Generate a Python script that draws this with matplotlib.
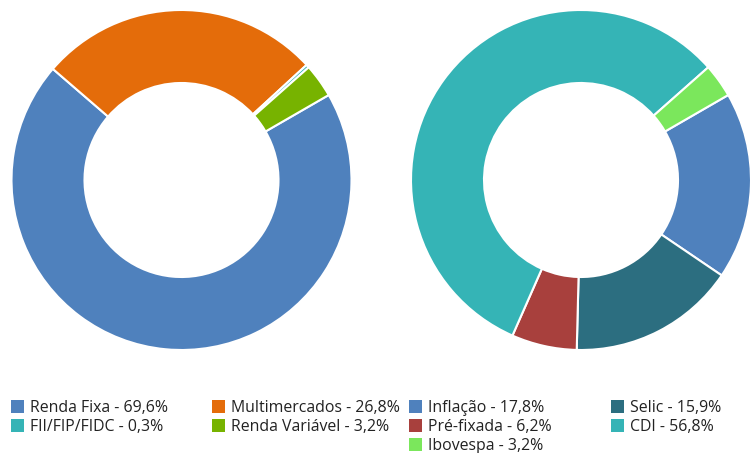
import matplotlib
matplotlib.use("Agg")
import matplotlib.pyplot as plt
from matplotlib.patches import Rectangle

plt.rcParams['font.family'] = ['Open Sans', 'DejaVu Sans']

# Left donut data
left_labels = ["Renda Fixa", "Multimercados", "FII/FIP/FIDC", "Renda Variável"]
left_values = [69.6, 26.8, 0.3, 3.2]
left_colors = ["#4F81BD", "#E46C0A", "#35B4B6", "#77B300"]

# Right donut data
right_labels = ["Inflação", "Selic", "Pré-fixada", "CDI", "Ibovespa"]
right_values = [17.8, 15.9, 6.2, 56.8, 3.2]
right_colors = ["#4F81BD", "#2C6E80", "#A8403D", "#35B4B6", "#7BE75C"]

W, H = 756, 453
fig = plt.figure(figsize=(W / 100, H / 100), dpi=100)
fig.patch.set_facecolor("white")

R_OUT, R_IN = 170, 97


def donut(cx, cy, values, colors):
    ax = fig.add_axes([(cx - R_OUT) / W, 1 - (cy + R_OUT) / H, 2 * R_OUT / W, 2 * R_OUT / H])
    ax.pie(values, colors=colors, startangle=30, counterclock=False, radius=1,
           wedgeprops=dict(width=(R_OUT - R_IN) / R_OUT, edgecolor="white", linewidth=1.5))
    ax.set_xlim(-1, 1)
    ax.set_ylim(-1, 1)
    ax.set_aspect("equal")
    ax.axis("off")


donut(181.5, 180, left_values, left_colors)
donut(581, 180, right_values, right_colors)


def legend(x0, col_w, labels, values, colors):
    for i, (lab, val, col) in enumerate(zip(labels, values, colors)):
        r, c = divmod(i, 2)
        x = x0 + c * col_w
        yc = 406 + r * 19
        fig.patches.append(Rectangle((x / W, 1 - (yc + 6.5) / H), 13 / W, 13 / H,
                                     transform=fig.transFigure, facecolor=col,
                                     edgecolor="none"))
        txt = f"{lab} - {val:.1f}%".replace(".", ",")
        fig.text((x + 19) / W, 1 - yc / H, txt, fontsize=11.4, color="#222222",
                 va="center_baseline", ha="left")


legend(11, 201, left_labels, left_values, left_colors)
legend(409, 202, right_labels, right_values, right_colors)

fig.savefig("out.png", dpi=100)
